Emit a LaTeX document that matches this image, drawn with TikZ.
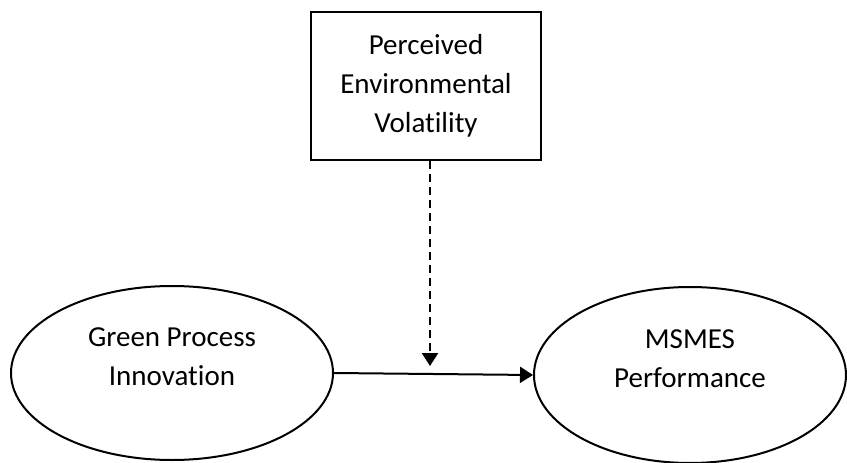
\documentclass[tikz,border=0pt]{standalone}
\usepackage{fontspec}
\setmainfont[Ligatures={NoCommon}]{Carlito}
\usetikzlibrary{arrows.meta,shapes.geometric,calc}

\tikzset{
  construct/.style={ellipse,draw,line width=2pt,inner sep=0pt},
  moderator/.style={rectangle,draw,line width=2.4pt,align=center,
    minimum width=230pt,minimum height=148pt,inner sep=0pt},
  txt/.style={font=\fontsize{29}{39}\selectfont,align=center},
}

\begin{document}
\begin{tikzpicture}[>={Triangle[length=13pt,width=16pt]}, x=1pt, y=1pt]
  \useasboundingbox (0,0) rectangle (847,-463);

  % moderator on top
  \node[moderator,txt] (pev) at (426,-86)
    {Perceived\\Environmental\\Volatility};

  % the two constructs
  \node[construct,minimum width=322pt,minimum height=174pt,
    label={[txt,yshift=16pt]center:Green Process\\Innovation}] (gpi) at (172,-373) {};
  \node[construct,minimum width=312pt,minimum height=176pt,
    label={[txt,yshift=16pt]center:MSMES\\Performance}] (perf) at (690,-375) {};

  % main path and moderating path
  \draw[->,line width=2pt] (gpi.east) -- (perf.west);
  \coordinate (modpt) at (430,-366);
  \draw[->,line width=2.6pt,dash pattern=on 8pt off 5pt]
    (pev.south -| modpt) -- (modpt);
\end{tikzpicture}
\end{document}
